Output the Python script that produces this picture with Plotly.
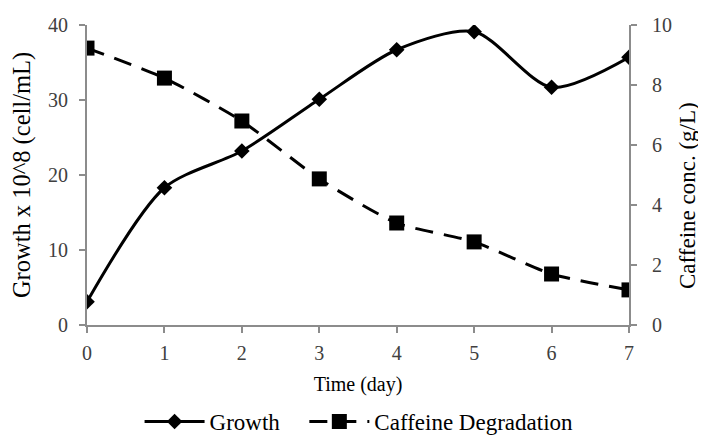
import plotly.graph_objects as go

days = [0, 1, 2, 3, 4, 5, 6, 7]
growth = [3.1, 18.3, 23.2, 30.1, 36.7, 39.1, 31.7, 35.7]
caffeine = [9.23, 8.23, 6.8, 4.87, 3.4, 2.77, 1.7, 1.17]

FONT = "Liberation Serif, Times New Roman, serif"
AX = "#8c8c8c"
TICKC = "#404040"

fig = go.Figure()
fig.add_trace(go.Scatter(
    x=days, y=growth, name="Growth", mode="lines+markers", legend="legend",
    line=dict(color="black", width=3, shape="spline", smoothing=0.8),
    marker=dict(symbol="diamond", size=12, color="black"),
))
fig.add_trace(go.Scatter(
    x=days, y=caffeine, name="Caffeine Degradation", mode="lines+markers",
    yaxis="y2", legend="legend2",
    line=dict(color="black", width=3, shape="spline", smoothing=0.6, dash="18px,11px"),
    marker=dict(symbol="square", size=15, color="black"),
))

axis_common = dict(
    showgrid=False, zeroline=False, showline=True, linecolor=AX, linewidth=2,
    ticks="outside", ticklen=6, tickcolor=AX, tickwidth=2, automargin=False,
    tickfont=dict(family=FONT, size=20, color=TICKC),
)

legend_common = dict(orientation="h", xanchor="left", y=-0.25, yanchor="top",
                     font=dict(family=FONT, size=23), itemwidth=60,
                     bgcolor="rgba(0,0,0,0)")

# page body has an 8px default margin, so the figure is drawn 8px smaller
fig.update_layout(
    width=698, height=431,
    margin=dict(l=79, r=77, t=17, b=114, autoexpand=False),
    paper_bgcolor="white", plot_bgcolor="white",
    font=dict(family=FONT, size=20, color="black"),
    xaxis=dict(range=[0, 7], dtick=1, ticklabelstandoff=3,
               title=dict(text="Time (day)", font=dict(family=FONT, size=20), standoff=14),
               **axis_common),
    yaxis=dict(range=[0, 40], dtick=10, ticklabelstandoff=7,
               title=dict(text="Growth x 10^8 (cell/mL)", font=dict(family=FONT, size=24.5), standoff=11),
               **axis_common),
    yaxis2=dict(range=[0, 10], dtick=2, overlaying="y", side="right", anchor="x",
                ticklabelstandoff=11, **axis_common),
    legend=dict(x=0.097, **legend_common),
    legend2=dict(x=0.401, **legend_common),
    showlegend=True,
    annotations=[dict(
        text="Caffeine conc. (g/L)", textangle=-90, xref="paper", yref="paper",
        x=(687 - 87) / 542, y=(325 - 196) / 300, xanchor="center", yanchor="middle",
        showarrow=False, font=dict(family=FONT, size=23, color="black"),
    )],
)

fig.write_html("out.html")
